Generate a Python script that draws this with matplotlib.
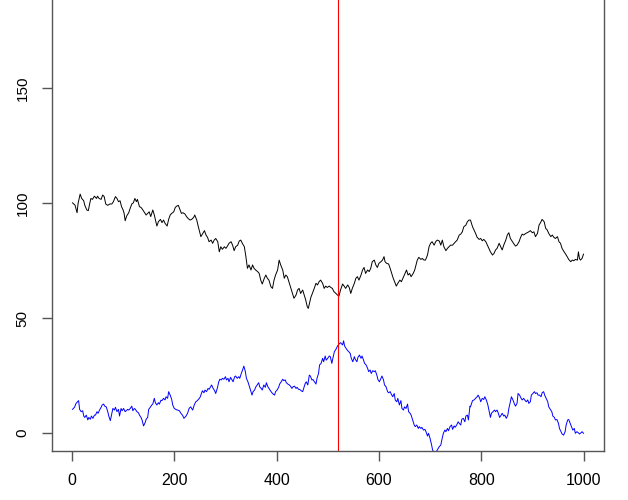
import matplotlib
matplotlib.use("Agg")
import matplotlib.pyplot as plt

# ---- black series (random walk starting near 100) ----
black_x = [1, 6, 10, 12, 16, 19, 23, 25, 29, 32, 35, 37, 40, 44, 48, 50, 53, 57, 60, 63,
           66, 70, 74, 78, 81, 85, 88, 91, 94, 97, 100, 102, 104, 107, 111, 113, 117, 120, 123, 126,
           128, 132, 135, 138, 141, 145, 148, 151, 154, 158, 161, 164, 166, 169, 173, 176, 179, 182, 186, 189,
           192, 195, 199, 202, 205, 208, 211, 214, 217, 221, 224, 227, 231, 234, 238, 240, 244, 247, 251,
           252, 255, 259, 262, 265, 268, 272, 275, 278, 281, 285, 288, 291, 294, 298, 301, 304, 307, 311, 314,
           317, 320, 324, 327, 330, 333, 337, 340, 343, 346, 350, 353, 356, 359, 363, 366, 369, 372, 376, 379,
           382, 385, 389, 392, 395, 398, 402, 405, 408, 412, 415, 418, 421, 425, 428, 431, 434, 438, 441, 444,
           447, 451, 454, 457, 460, 462, 465, 467, 470, 473, 477, 480, 483, 486, 490, 493, 496, 499, 503, 506,
           509, 512, 516,
           519, 522, 525, 529, 532, 535, 539, 542, 545, 548, 552, 555, 558, 561, 565, 568, 571, 574, 578, 581,
           584, 587, 591, 594, 597, 600, 604, 607, 610, 612, 615, 619, 622, 625, 628, 632, 634, 637, 641, 644,
           647, 650, 654, 657, 660, 663, 667, 670, 672, 675, 678, 682, 685, 688, 691, 695, 698, 701, 704, 708,
           711, 714, 718, 721, 724, 727, 731, 734, 737, 740, 744, 747, 750, 753, 757, 760, 763, 766, 770, 773,
           776, 779,
           783, 786, 789, 792, 796, 799, 802, 805, 809, 812, 815, 818, 822, 825, 828, 831, 835, 838, 841, 844,
           848, 851, 854, 857, 861, 864, 867, 870, 874, 877, 880, 883, 887, 890, 893, 896, 900, 903, 906, 910,
           913, 916, 919, 923, 926, 929, 932, 936, 939, 942, 945, 949, 952, 955, 958, 962, 965, 968, 971, 975,
           978, 981, 984, 988, 990, 992, 994, 997, 1000]
black_y = [100.1, 99.1, 95.8, 99.9, 103.9, 102.0, 101.0, 99.1, 97.0, 96.7, 100.1, 102.0, 101.6, 103.0, 102.0, 103.0, 102.0, 101.6, 103.5, 102.8,
           99.6, 99.0, 99.6, 99.6, 100.6, 102.8, 102.0, 100.6, 101.0, 98.4, 97.0, 95.5, 92.3, 94.4, 95.8, 97.2, 99.6, 100.1, 102.0, 100.6,
           101.6, 98.4, 98.1, 97.2, 96.2, 94.8, 95.5, 96.2, 94.1, 97.0, 94.8, 91.9, 90.0, 91.9, 92.9, 91.5, 92.6, 91.2, 90.0, 92.9,
           94.8, 95.5, 96.2, 98.1, 98.7, 99.0, 97.2, 95.5, 95.8, 95.2, 94.1, 93.3, 92.6, 92.9, 93.8, 94.8, 92.6, 89.7, 86.1,
           85.4, 86.5, 88.0, 86.1, 85.1, 83.2, 83.9, 82.5, 83.9, 84.6, 83.2, 78.8, 81.0, 79.9, 81.0, 80.3, 81.3, 82.5, 83.2, 81.7,
           79.3, 81.0, 81.7, 83.5, 83.9, 82.5, 81.0, 76.7, 71.6, 73.1, 70.9, 73.1, 71.6, 70.9, 70.2, 69.4, 66.5, 64.8, 67.3, 68.7,
           67.3, 66.5, 63.6, 62.9, 66.5, 68.7, 70.9, 75.2, 73.1, 70.9, 67.3, 68.7, 68.0, 65.1, 62.9, 60.7, 58.6, 60.0, 62.2, 62.9,
           60.7, 62.2, 60.0, 57.8, 54.9, 54.2, 57.1, 59.0, 60.7, 62.5, 65.1, 64.4, 65.8, 66.5, 65.1, 62.9, 63.9, 63.3, 63.9, 63.3,
           62.9, 61.5, 60.7,
           60.0, 59.6, 62.2, 64.8, 63.9, 62.9, 64.4, 63.3, 60.7, 62.9, 65.1, 67.3, 68.0, 66.5, 68.7, 70.9, 72.0, 69.4, 70.9, 70.2,
           71.6, 74.5, 75.2, 73.1, 72.0, 73.8, 74.5, 75.2, 76.7, 74.5, 73.8, 73.5, 71.6, 69.4, 67.3, 65.1, 63.9, 65.1, 66.5, 65.8,
           67.3, 68.7, 70.9, 68.7, 69.4, 68.0, 69.4, 70.9, 72.6, 75.2, 76.4, 75.5, 75.9, 75.2, 75.2, 77.4, 81.0, 82.5, 83.2, 81.7,
           83.2, 83.9, 83.5, 81.7, 83.9, 81.0, 79.3, 80.3, 81.0, 81.7, 81.7, 82.5, 83.2, 83.9, 86.1, 86.5, 87.5, 89.7, 90.4, 91.9,
           92.6, 92.6,
           89.7, 88.3, 86.8, 85.1, 84.2, 84.6, 83.6, 84.2, 83.2, 81.7, 80.3, 78.8, 77.4, 78.1, 79.6, 80.3, 82.5, 81.0, 79.6, 81.7,
           83.9, 86.1, 87.1, 84.6, 83.2, 82.2, 81.3, 81.7, 83.2, 85.1, 86.5, 86.1, 86.8, 87.1, 87.5, 88.0, 87.1, 87.5, 85.4, 86.8,
           90.4, 91.5, 92.9, 91.9, 89.0, 88.3, 86.8, 85.4, 86.1, 85.1, 84.6, 85.4, 83.2, 82.5, 80.3, 78.8, 77.8, 76.7, 75.5, 74.5,
           75.2, 74.9, 75.5, 75.2, 78.8, 75.9, 75.2, 75.9, 77.8]

# ---- blue series (random walk starting near 10) ----
blue_x = [1, 5, 8, 11, 13, 15, 18, 21, 23, 25, 28, 31, 33, 36, 38, 41, 44, 46, 49, 51,
          54, 57, 59, 62, 64, 67, 70, 72, 75, 78, 80, 83, 85, 88, 91, 93, 96, 98, 101, 104,
          106, 109, 111, 114, 117, 119, 122, 124, 127, 130, 132, 135, 137, 140, 143, 145, 148, 150, 153, 156,
          158, 161, 163, 166, 169, 171, 174, 176, 179, 182, 184, 187, 189, 192, 195, 197, 200, 203, 206, 210,
          213, 216, 219, 223, 226, 229, 232, 236, 239, 242, 245, 249, 251,
          253, 255, 258, 260, 263, 266, 268, 271, 273, 276, 279, 281, 284, 287, 289, 292, 294, 297, 300, 302,
          305, 307, 310, 313, 315, 318, 320, 323, 326, 328, 331, 333, 336, 339, 341, 344, 346, 349, 352, 354,
          357, 359, 362, 365, 367, 370, 372, 375, 378, 380, 383, 385, 388, 391, 393, 396, 398, 401, 404, 406,
          409, 412, 414, 417, 419, 422, 425, 427, 430, 432, 435, 438, 440, 443, 445, 448, 451, 453, 456, 458,
          461, 464, 466, 469, 471, 474, 477, 479, 482, 484, 487, 490, 492, 495, 497, 500, 503, 505, 508, 510,
          513, 516,
          519, 522, 525, 529, 531, 533, 536, 538, 541, 544, 546, 549, 552, 554, 557, 559, 562, 565, 567, 570,
          572, 575, 578, 580, 583, 585, 588, 591, 593, 596, 598, 601, 604, 606, 609, 611, 614, 617, 619, 622,
          624, 627, 630, 632, 635, 637, 640, 643, 645, 648, 650, 653, 656, 658, 661, 663, 666, 669, 671, 674,
          677, 679, 682, 684, 687, 690, 692, 695, 697, 700, 703, 705, 708, 711, 714, 718, 721, 723, 726, 729,
          731, 734, 736, 739, 742, 744, 747, 749, 752, 755, 757, 760, 762, 765, 768, 770, 773, 775, 778,
          779, 783, 786, 789, 792, 794, 797, 799, 802, 805, 807, 810, 813, 815, 818, 820, 823, 826, 828, 831,
          833, 836, 839, 841, 844, 846, 849, 852, 854, 857, 859, 862, 865, 867, 870, 872, 875, 878, 880, 883,
          885, 888, 891, 893, 896, 898, 901, 904, 906, 909, 911, 914, 917, 919, 922, 924, 927, 930, 932, 935,
          938, 940, 943, 945, 948, 951, 953, 956, 958, 961, 964, 966, 969, 971, 974, 977, 979, 982, 984, 987,
          990, 992, 995, 997, 1000]
blue_y = [10.3, 11.2, 12.9, 13.6, 14.1, 10.3, 9.3, 9.7, 7.4, 6.8, 7.8, 5.7, 6.8, 6.0, 7.4, 6.4, 7.8, 7.8, 9.3, 8.6,
          10.0, 11.2, 12.2, 12.6, 11.7, 11.4, 9.3, 7.4, 5.4, 8.6, 10.7, 10.0, 11.2, 9.3, 10.3, 7.4, 10.7, 9.7, 10.7, 9.3,
          9.7, 10.3, 10.0, 10.7, 11.7, 9.7, 10.7, 10.3, 9.3, 8.8, 7.8, 6.8, 5.7, 3.1, 4.5, 6.0, 6.8, 10.3, 11.2, 12.2,
          12.6, 15.1, 13.2, 12.2, 13.2, 12.6, 14.3, 14.1, 15.1, 14.4, 15.8, 15.1, 18.0, 16.5, 14.6, 12.2, 10.7, 10.3, 10.0, 9.7,
          8.6, 7.8, 6.4, 7.4, 8.6, 10.7, 11.4, 10.0, 12.2, 13.6, 14.1, 15.1, 15.8,
          17.2, 18.4, 17.5, 18.7, 18.0, 19.4, 19.0, 20.1, 20.9, 19.4, 18.4, 17.2, 19.4, 22.3, 23.4, 23.1, 23.8, 23.4, 24.5, 23.1,
          23.8, 22.3, 24.2, 23.1, 22.3, 24.5, 24.8, 23.8, 24.5, 23.8, 25.9, 27.1, 29.1, 26.7, 23.8, 22.3, 20.9, 18.7, 16.5, 18.0,
          18.7, 19.9, 20.9, 21.9, 20.1, 19.4, 18.7, 20.9, 19.9, 21.9, 20.1, 19.4, 18.4, 17.5, 17.0, 16.5, 18.0, 18.7, 19.9, 21.3,
          22.3, 23.4, 22.8, 23.1, 21.9, 21.3, 20.9, 20.4, 19.4, 20.1, 20.4, 19.4, 19.9, 19.0, 19.0, 18.4, 18.0, 19.4, 21.6, 22.3,
          20.9, 25.2, 24.8, 23.1, 23.3, 22.3, 21.3, 23.8, 25.9, 29.6, 30.3, 32.5, 31.0, 33.5, 31.7, 32.5, 33.5, 33.2, 30.3, 32.5,
          35.4, 36.4,
          37.8, 38.7, 39.3, 38.3, 40.1, 37.8, 36.8, 36.1, 35.4, 34.6, 32.5, 31.0, 33.2, 32.0, 31.0, 32.9, 33.9, 32.5, 33.5, 31.7,
          30.3, 29.6, 28.1, 26.7, 27.4, 25.9, 27.1, 26.7, 27.1, 25.2, 23.3, 22.3, 23.8, 24.8, 23.1, 20.9, 20.1, 18.0, 17.5, 18.0,
          17.0, 15.8, 17.2, 14.3, 13.6, 15.1, 12.2, 14.1, 10.7, 10.0, 11.4, 10.7, 12.6, 9.3, 8.6, 7.8, 5.7, 3.5, 2.8, 3.5,
          2.0, 2.8, 2.0, 2.5, 1.3, 1.6, 0.6, -1.3, -0.1, -2.3, -5.2, -7.4, -8.5, -8.5, -7.4, -5.9, -5.2, -3.0, -0.1, 1.3,
          0.6, 2.0, 1.0, 2.8, 3.5, 1.6, 3.1, 2.5, 3.5, 4.9, 4.2, 3.5, 6.0, 6.4, 4.9, 7.4, 7.8, 5.7, 11.7,
          11.4, 14.1, 14.4, 15.1, 15.8, 16.5, 15.1, 13.6, 15.1, 14.6, 15.8, 14.4, 12.2, 10.0, 6.8, 8.6, 9.3, 10.0, 9.3, 10.0,
          8.9, 6.8, 7.8, 8.6, 7.4, 7.8, 6.4, 7.8, 10.7, 13.6, 15.8, 14.4, 12.6, 11.7, 12.9, 17.2, 16.5, 15.1, 14.4, 15.1,
          14.4, 13.6, 14.4, 12.9, 13.6, 16.5, 17.2, 18.0, 17.2, 17.5, 16.5, 16.5, 15.8, 17.5, 18.0, 16.5, 15.1, 13.6, 11.4, 10.3,
          9.3, 7.4, 6.8, 5.7, 5.9, 4.2, 2.0, 0.6, -0.4, -0.9, 0.6, 3.5, 5.7, 5.9, 4.2, 2.5, 1.3, 2.0, -0.1, 0.6,
          0.1, -0.4, 0.1, 0.6, -0.1]

vline_x = 521
x_ticks = [0, 200, 400, 600, 800, 1000]
y_ticks = [0, 50, 100, 150]

assert len(black_x) == len(black_y), (len(black_x), len(black_y))
assert len(blue_x) == len(blue_y), (len(blue_x), len(blue_y))

plt.rcParams['font.family'] = ['Liberation Sans', 'DejaVu Sans']

fig = plt.figure(figsize=(6.28, 5.0), dpi=100)
ax = fig.add_axes([52 / 628, 0.098, 552 / 628, 0.9329])

ax.plot(black_x, black_y, color='black', lw=0.7)
ax.plot(blue_x, blue_y, color='#0000FF', lw=0.7)
ax.axvline(vline_x, color='#FF0000', lw=0.8)

ax.set_xlim(-39, 1040)
ax.set_ylim(-7.8, 195)
ax.set_xticks(x_ticks)
ax.set_yticks(y_ticks)
ax.set_yticklabels([str(v) for v in y_ticks], rotation=90, va='center')

for s in ax.spines.values():
    s.set_color('#555555')
    s.set_linewidth(1.0)
ax.tick_params(axis='both', direction='out', length=7, width=1.0, color='#555555', pad=9)
ax.tick_params(axis='x', labelsize=11.5)
ax.tick_params(axis='y', labelsize=11)

fig.savefig('out.png', dpi=100, facecolor='white')
